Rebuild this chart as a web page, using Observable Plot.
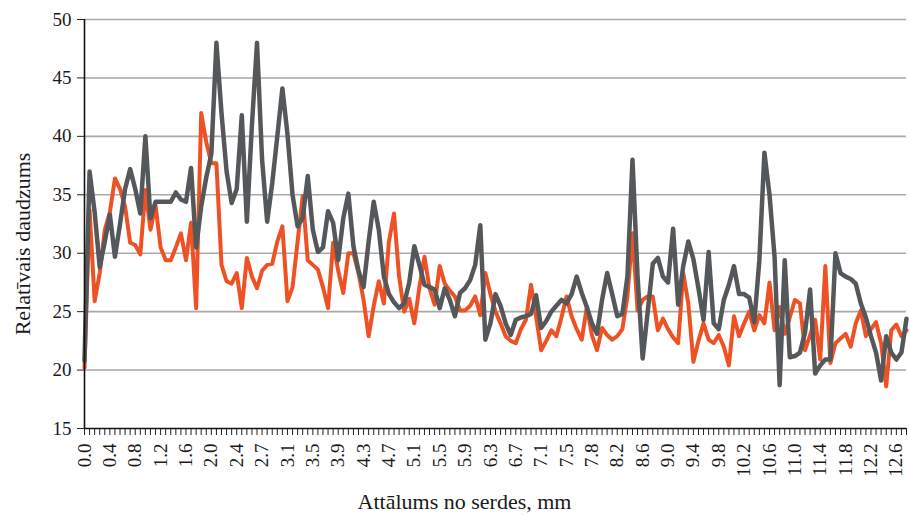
<!DOCTYPE html>
<html>
<head>
<meta charset="utf-8">
<script src="https://cdn.jsdelivr.net/npm/d3@7"></script>
<script src="https://cdn.jsdelivr.net/npm/@observablehq/plot@0.6"></script>
<style>
  html, body { margin: 0; padding: 0; background: #fff; }
  #chart { width: 909px; height: 517px; }
</style>
</head>
<body>
<div id="chart"></div>
<script>
// Tick labels of the category axis (one label every 5 categories)
const tickLabels = ["0.0","0.4","0.8","1.2","1.6","2.0","2.4","2.7","3.1","3.5","3.9","4.3","4.7","5.1","5.5","5.9","6.3","6.7","7.1","7.5","7.8","8.2","8.6","9.0","9.4","9.8","10.2","10.6","11.0","11.4","11.8","12.2","12.6"];

// Grey series (one per category)
const grayValues = [
  20.8, 37, 33.5, 28.8, 31, 33.3, 29.7, 32.5, 35.5, 37.2,
  35.5, 33.4, 40, 33, 34.4, 34.4, 34.4, 34.4, 35.2, 34.6,
  34.4, 37.3, 30.5, 34, 36.5, 38.5, 48, 42, 37, 34.3,
  35.5, 41.8, 32.7, 41, 48, 38, 32.7, 36, 40, 44.1,
  40.2, 35, 32.3, 33, 36.6, 32, 30.1, 30.5, 33.6, 32.6,
  29.4, 33, 35.1, 30.6, 28.5, 27.1, 31, 34.4, 32, 28,
  26.5, 25.8, 25.3, 25.7, 27.5, 30.6, 29, 27.3, 27.1, 26.9,
  25.3, 27, 26, 24.6, 26.6, 27, 27.7, 29, 32.4, 22.6,
  24, 26.5, 25.5, 24, 23, 24.3, 24.5, 24.6, 24.8, 26.4,
  23.6, 24.2, 25, 25.5, 26, 25.7, 26.5, 28, 26.6, 25.4,
  24, 23.1, 26, 28.3, 26.5, 24.6, 24.8, 28, 38, 28,
  21, 25, 29.1, 29.6, 28, 27.5, 32.1, 25.6, 28.9, 31,
  29.5, 27, 24.3, 30.1, 24, 23.5, 26, 27.3, 28.9, 26.5,
  26.5, 26.2, 24.1, 29.4, 38.6, 35, 29.7, 18.7, 29.4, 21.1,
  21.2, 21.5, 23.2, 26.9, 19.7, 20.4, 20.9, 20.9, 30, 28.3,
  28, 27.8, 27.4, 25.7, 24.5, 22.9, 21.5, 19.1, 22.9, 21.5,
  20.9, 21.5, 24.4
];

// Orange series (one per category)
const orangeValues = [
  20.2, 33.7, 25.9, 28.3, 32, 33.5, 36.4, 35.5, 34, 30.9,
  30.7, 29.9, 35.4, 32, 34.1, 30.5, 29.4, 29.4, 30.5, 31.7,
  29.4, 32.6, 25.3, 42, 39.5, 37.7, 37.7, 29, 27.6, 27.4,
  28.3, 25.3, 29.6, 28, 27, 28.5, 29, 29.1, 31, 32.3,
  25.9, 27.1, 31, 34.9, 29.4, 29, 28.6, 27.1, 25.3, 30.9,
  28.5, 26.6, 30, 30, 28.3, 26, 22.9, 25.5, 27.6, 25.7,
  31, 33.4, 28, 25, 26.1, 24, 27.1, 29.7, 27, 25.6,
  28.9, 27.4, 26.8, 26.3, 25.1, 25.1, 25.5, 26.3, 24.7, 28.3,
  26.5, 25, 24, 22.9, 22.5, 22.3, 23.5, 24.3, 27.3, 24.6,
  21.7, 22.5, 23.4, 22.9, 24.5, 26.3, 24.6, 23.5, 22.6, 25.4,
  23, 21.7, 23.6, 23, 22.6, 22.9, 23.5, 26.3, 31.7, 25.1,
  26, 26.3, 26.3, 23.4, 24.4, 23.5, 22.8, 22.3, 28.3, 25.7,
  20.7, 22.5, 24, 22.6, 22.3, 23, 22, 20.4, 24.6, 22.9,
  24, 25, 23.4, 24.7, 24, 27.5, 23.4, 25.4, 23.1, 24.5,
  26, 25.7, 21.7, 23, 24.3, 20.9, 28.9, 20.6, 22.3, 22.7,
  23.1, 22, 24, 25.1, 22.9, 23.5, 24.1, 22.3, 18.6, 23.4,
  23.9, 22.9, 23.4
];

const yTicks = [15, 20, 25, 30, 35, 40, 45, 50];
const gridValues = [20, 25, 30, 35, 40, 45, 50];

const categories = grayValues.map((_, i) => i);
const labelPositions = tickLabels.map((_, k) => k * 5);

const grayData = grayValues.map((v, i) => ({i, v}));
const orangeData = orangeValues.map((v, i) => ({i, v}));

const chart = Plot.plot({
  width: 909,
  height: 517,
  marginLeft: 84,
  marginRight: 3,
  marginTop: 19,
  marginBottom: 89,
  style: {fontFamily: "'Liberation Serif', 'DejaVu Serif', serif", background: "#fff", color: "#1a1a1a"},
  x: {domain: [0, categories.length - 1]},
  y: {domain: [15, 50]},
  marks: [
    Plot.ruleY(gridValues, {stroke: "#a9a9a9", strokeWidth: 1.6, strokeOpacity: 1}),
    Plot.axisY({ticks: yTicks, tickSize: 7, tickPadding: 6, fontSize: 19, label: null, stroke: "#222"}),
    Plot.axisX({ticks: categories, tickSize: 7, tickFormat: () => "", label: null, stroke: "#222"}),
    Plot.axisX({ticks: labelPositions, tickSize: 0, tickPadding: 15, tickRotate: -90,
      tickFormat: (d) => tickLabels[Math.round(d / 5)], fontSize: 19, label: null}),
    Plot.line(orangeData, {x: "i", y: "v", stroke: "#ee5224", strokeWidth: 4, strokeLinejoin: "round", strokeLinecap: "round"}),
    Plot.line(grayData, {x: "i", y: "v", stroke: "#55585b", strokeWidth: 4.5, strokeLinejoin: "round", strokeLinecap: "round"}),
    Plot.ruleX([0], {stroke: "#111", strokeWidth: 1.6}),
    Plot.ruleY([15], {stroke: "#111", strokeWidth: 1.6}),
    Plot.text(["Attālums no serdes, mm"], {frameAnchor: "bottom", dx: -31, dy: 80, fontSize: 22, textAnchor: "middle", fill: "#1a1a1a"}),
    Plot.text(["Relatīvais daudzums"], {frameAnchor: "left", dx: -62, dy: 20, rotate: -90, fontSize: 22, textAnchor: "middle", fill: "#1a1a1a"})
  ]
});
document.getElementById("chart").appendChild(chart);
</script>
</body>
</html>
